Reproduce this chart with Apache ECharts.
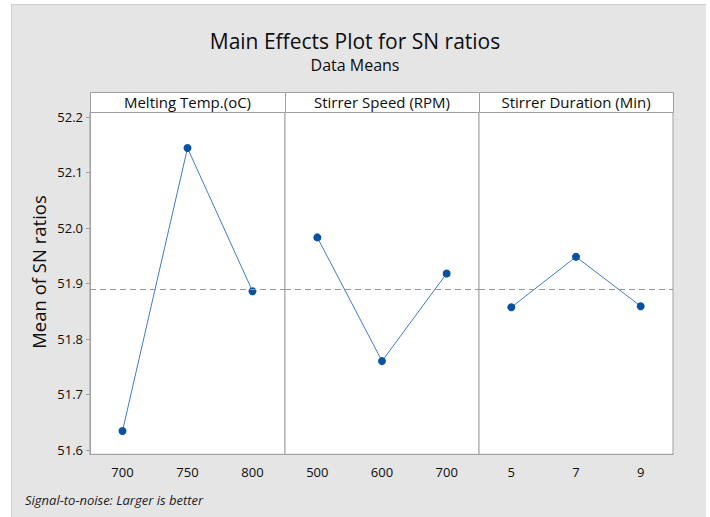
<!DOCTYPE html>
<html>
<head>
<meta charset="utf-8">
<script src="https://cdn.jsdelivr.net/npm/echarts@6/dist/echarts.min.js"></script>
<style>
  html, body { margin: 0; padding: 0; background: #fff; }
  #bg { position: absolute; left: 11px; top: 4px; width: 695px; height: 513px; background: #e5e5e5; border-left: 1px solid #d0d0d0; border-top: 1px solid #d0d0d0; box-sizing: border-box; }
  #main { position: absolute; left: 0; top: 0; width: 710px; height: 517px; }
</style>
</head>
<body>
<div id="bg"></div>
<div id="main"></div>
<script>
var FONT = '"Open Sans", "Noto Sans", sans-serif';

// factor levels and their mean SN ratios
var panelNames = ['Melting Temp.(oC)', 'Stirrer Speed (RPM)', 'Stirrer Duration (Min)'];
var tempLevels = ['700', '750', '800'];
var tempMeans = [51.634, 52.144, 51.886];
var speedLevels = ['500', '600', '700'];
var speedMeans = [51.983, 51.760, 51.918];
var durationLevels = ['5', '7', '9'];
var durationMeans = [51.857, 51.948, 51.859];
var grandMean = 51.886;
var yTicks = [51.6, 51.7, 51.8, 51.9, 52.0, 52.1, 52.2];

var levels = [tempLevels, speedLevels, durationLevels];
var means = [tempMeans, speedMeans, durationMeans];

var frameColor = '#a0a0a0';
var textColor = '#0d0d0d';
var panelLeft = [90, 285, 479];
var panelWidth = [195, 194, 194];

var chartDom = document.getElementById('main');
var myChart = echarts.init(chartDom, null, { renderer: 'svg' });

var grids = [], xAxes = [], yAxes = [], series = [], graphics = [];

for (var i = 0; i < 3; i++) {
  grids.push({
    left: panelLeft[i], width: panelWidth[i], top: 112, bottom: 62.7,
    show: true, backgroundColor: '#fff', borderColor: frameColor, borderWidth: 1
  });
  xAxes.push({
    type: 'category', gridIndex: i, data: levels[i], boundaryGap: true,
    axisLine: { lineStyle: { color: frameColor } },
    axisTick: { alignWithLabel: true, length: 4, lineStyle: { color: frameColor } },
    axisLabel: { color: textColor, fontSize: 13, margin: 11, fontFamily: FONT }
  });
  yAxes.push({
    type: 'value', gridIndex: i, min: 51.592, max: 52.209,
    splitLine: { show: false },
    axisLine: { show: i === 0, lineStyle: { color: frameColor } },
    axisTick: { show: i === 0, length: 4, customValues: yTicks, lineStyle: { color: frameColor } },
    axisLabel: {
      show: i === 0, customValues: yTicks, color: textColor, fontSize: 13, margin: 7, fontFamily: FONT,
      formatter: function (v) { return v.toFixed(1); }
    }
  });
  series.push({
    type: 'line', xAxisIndex: i, yAxisIndex: i, data: means[i],
    symbol: 'circle', symbolSize: 8,
    itemStyle: { color: '#0a52a0' },
    lineStyle: { color: '#3f7dc4', width: 1 },
    markLine: {
      silent: true, symbol: 'none', label: { show: false },
      lineStyle: { color: '#999', type: [6, 4], width: 1 },
      data: [{ yAxis: grandMean }]
    }
  });
  graphics.push({
    type: 'rect', left: panelLeft[i], top: 92,
    shape: { width: panelWidth[i], height: 20 },
    style: { fill: '#fff', stroke: frameColor, lineWidth: 1 }
  });
  graphics.push({
    type: 'text', x: panelLeft[i] + panelWidth[i] / 2, y: 102,
    style: {
      text: panelNames[i], fill: textColor, font: '15px ' + FONT,
      textAlign: 'center', textVerticalAlign: 'middle'
    }
  });
}

// y axis title, sits a bit above the middle of the plot like the original
graphics.push({
  type: 'text', x: 38, y: 272, rotation: Math.PI / 2,
  style: {
    text: 'Mean of SN ratios', fill: textColor, font: '18.5px ' + FONT,
    textAlign: 'center', textVerticalAlign: 'middle'
  }
});

graphics.push({
  type: 'text', x: 25, y: 500,
  style: {
    text: 'Signal-to-noise: Larger is better', fill: '#222',
    font: 'italic 13px ' + FONT, textVerticalAlign: 'middle'
  }
});

var option = {
  backgroundColor: 'transparent',
  animation: false,
  title: {
    text: 'Main Effects Plot for SN ratios',
    subtext: 'Data Means',
    left: 'center', top: 25, itemGap: 6,
    textStyle: { fontSize: 21, fontWeight: 'normal', color: textColor, fontFamily: FONT },
    subtextStyle: { fontSize: 16, color: textColor, fontFamily: FONT }
  },
  grid: grids,
  xAxis: xAxes,
  yAxis: yAxes,
  series: series,
  graphic: graphics
};

myChart.setOption(option);
</script>
</body>
</html>
